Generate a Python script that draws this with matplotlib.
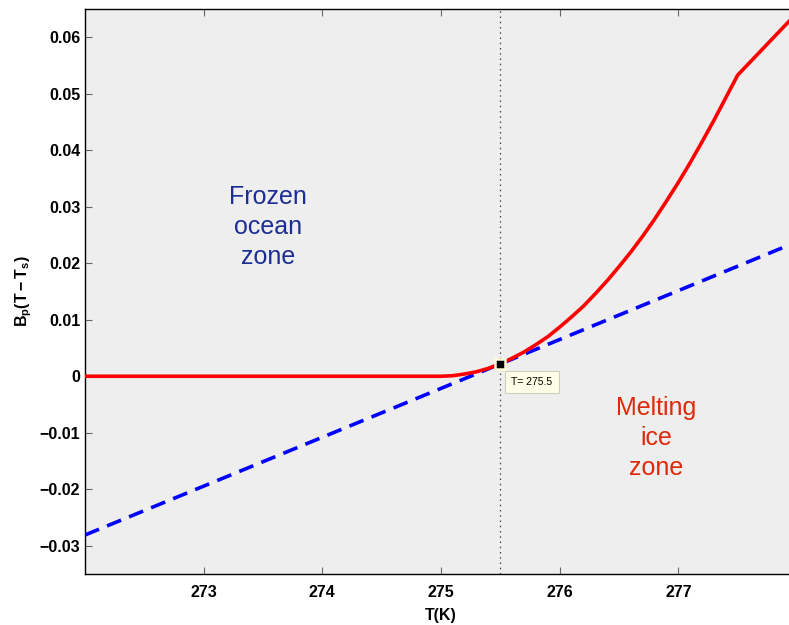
import matplotlib.pyplot as plt
import numpy as np

plt.rcParams['font.family'] = ['Liberation Sans', 'DejaVu Sans']
plt.rcParams['mathtext.fontset'] = 'custom'
plt.rcParams['mathtext.rm'] = 'Liberation Sans:bold'
plt.rcParams['mathtext.it'] = 'Liberation Sans:bold'
plt.rcParams['mathtext.bf'] = 'Liberation Sans:bold'

# linear approximation B_p (T - T_s)
t_line = [272.0, 278.0]
b_line = [-0.0281, 0.0238]

# full buoyancy curve
t_curve = [272.0, 275.0, 275.1, 275.2, 275.3, 275.4, 275.5, 275.6, 275.7, 275.8,
           275.9, 276.0, 276.1, 276.2, 276.3, 276.4, 276.5, 276.6, 276.7, 276.8,
           276.9, 277.0, 277.1, 277.2, 277.3, 277.4, 277.5, 278.0]
b_curve = [0.0, 0.0, 0.0001, 0.0004, 0.0008, 0.0014, 0.0022, 0.0032, 0.0043, 0.0056,
           0.0070, 0.0087, 0.0105, 0.0124, 0.0146, 0.0169, 0.0194, 0.0220, 0.0248,
           0.0278, 0.0310, 0.0343, 0.0378, 0.0415, 0.0453, 0.0493, 0.0533, 0.0643]

t_mark = 275.5
b_mark = 0.0022

fig = plt.figure(figsize=(7.89, 6.25), dpi=100)
ax = fig.add_axes([85 / 789, 1 - 574 / 625, 712 / 789, 565 / 625])
ax.set_facecolor('#eeeeee')

ax.plot(t_line, b_line, color='#0000ff', lw=2.6, dashes=(4.2, 2.4), zorder=3)
ax.plot(t_curve, b_curve, color='#ff0000', lw=2.6, zorder=4)
ax.axvline(t_mark, color='#444444', lw=0.9, ls=(0, (1.2, 3)), zorder=2)
ax.plot([t_mark], [b_mark], marker='s', ms=7.5, mfc='black', mec='#fffbd8',
        mew=1.8, zorder=6, ls='none')
ax.annotate('T= %.1f' % t_mark, xy=(t_mark, b_mark), xytext=(8, -13),
            textcoords='offset points', fontsize=7.5, va='center', ha='left',
            bbox=dict(boxstyle='square,pad=0.6', fc='#ffffe8', ec='#cfcfbf', lw=0.8),
            zorder=7)

# zone labels placed in figure pixels
W, H = 789, 625
fig.text(268 / W, 1 - 227 / H, 'Frozen\nocean\nzone', ha='center', va='center',
         fontsize=18, color='#1c2e94', linespacing=1.32)
fig.text(656 / W, 1 - 438 / H, 'Melting\nice\nzone', ha='center', va='center',
         fontsize=18, color='#e0280a', linespacing=1.32)

ax.set_xlim(272, 278)
ax.set_ylim(-0.035, 0.065)
ax.set_xticks([273, 274, 275, 276, 277])
ax.set_yticks(np.arange(-0.03, 0.061, 0.01))
ax.set_yticklabels(['\u22120.03', '\u22120.02', '\u22120.01', '0', '0.01', '0.02',
                    '0.03', '0.04', '0.05', '0.06'])
ax.tick_params(direction='in', length=5, width=0.8, color='#666666',
               top=True, right=True, labelsize=11.5)
ax.tick_params(axis='y', pad=3.5)
ax.tick_params(axis='x', pad=8)
for lab in ax.get_xticklabels() + ax.get_yticklabels():
    lab.set_fontweight('bold')
for s in ax.spines.values():
    s.set_linewidth(1.0)
    s.set_color('black')

ax.set_xlabel('T(K)', fontsize=11.5, fontweight='bold', labelpad=6)
ax.set_ylabel('$B_p(T-T_s)$', fontsize=11.5, labelpad=4)

fig.savefig('out.png', dpi=100)
